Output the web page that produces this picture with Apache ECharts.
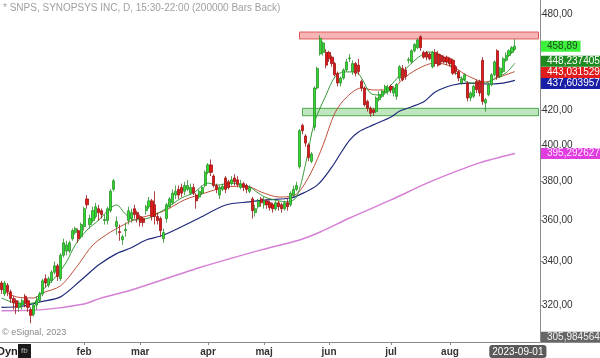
<!DOCTYPE html>
<html>
<head>
<meta charset="utf-8">
<script src="https://cdn.jsdelivr.net/npm/echarts@6/dist/echarts.min.js"></script>
<style>html,body{margin:0;padding:0;background:#fff}#c{width:600px;height:358px}</style>
</head>
<body>
<div id="c"></div>
<script>
// ---- data ----
const holidays = ['2022-12-26','2023-01-02','2023-01-16','2023-02-20','2023-04-07','2023-05-29','2023-06-19','2023-07-04','2023-09-04'];
const firstDay = '2022-12-20';
const padBars = 8;
const opens = [330,325,329,326,323,322,319,320,324,322,318,316,320,322,325,332,329,331,335,338,332,343,345,345,351,354,355,352,357,371,
358,360,362,366,365,360,360,365,376,357,354.5,350.5,355,360,361,366,364,362,361,365,367,370,368,362,361,351,361,367,369,373,
376,377,375,376,374,377,373,372,374,378,385,389,383,378,373,376,382,380,379,382,381,377,379,378,375,371,364,367,371,368,
370,369,368,366,369,368,366,369,368,373,376,388,411,405,400,391,410,433,454,455,455,455,452,448,442,436,439,444,451,443,
448,447,437,433,425,421,420,419,426,428,430,431,434,430,428,439,445,444,450,449,456,458,465,455,455,454,446,455,454,453,
452,452,451,450,446,443,436,438,436,427,428,437,437,450,424,429,435,441,456,440,443,450,453,455,457];
const closes = [327,330,326,323,321,319,321,322,321,319,315.5,320,322,325,331,330,332,335,338,333,343,349,348,349,355,356,351,358,366,368,
361,365,367,364,363,360.5,366,375,380.5,359.5,354,352,355.5,365,364,363,361,359,359,367,370,362,362,360,355,354,368,371,374,375,
373,374,378,378,377,374,370,375,377,385,389,385,378,376,377,377.5,376,377,381,380,378.5,379,377,376,377,365,366,370,369,370,
368,366.5,366,369,367,366,369,367,374,376,378,408,408,401,393,395,433,445,464,461,447,451,448,441,436,439,444,449,451.5,448,
442,443,433,423,421,418,418.5,427,429,431,434,433,432,433,435,446,438,440,450.5,456,460,463,458,452,452,451,455,448,447,449,
449,449,448,442,443,439,438.5,441,427,430,434,432,430,425,426,435,441,449,440,445,451,453,456,458,458.89];
const lows = [325,324,324,321,318,316,317,318,319,317,312,315,318,321,324,328,328,330,334,331,331,342,343,344,350,353,349,351,355,366,
356,359,361,360,361,358,358,364,375,353,350,348,352,358,359,361,359,357,357,363,366,360,358,358,352,349,359,366,368,371,
371,372,373,375,373,373,366,371,373,377,384,383,377,374,371,375,374,376,378,378,377,376,375,374,374,361,362,366,367,366,
366,365,364,365,365,364,365,365,367,372,375,387,406,399,391,390,408,432,453,453,445,449,446,440,434,434,438,443,449,441,
440,441,431,422,419,416,416.5,418,425,427,429,429,430,428,426,437,437,438,448,448,455,457,456,451,450,450,445,446,446,447,
448,447,446,441,441,437,435,437,425,425,427,430,428,423,419,428,434,440,438,439,442,449,452,454,456];
const highs = [331,331,330,327,324,323,322,323,325,323,319,321,324,326,332,334,333,336,340,339,344,351,350,350,356,357,356,359,367,373,
363,367,369,368,366,363,367,376,381.5,362,358,353,359,367,366,368,365,363,362,368,372,371,375,364,362,356,369,372,376,378,
378,379,380,381,379,379,374,376,378,386,390,392,384,379,378,379,383,381,383,384,383,381,380,379,378,372,368,371,372,372,
371,370,369,370,370,369,370,371,375,378,380,409,412,406,401,396,434,446,466,462,457,456,453,449,443,440,445,451,454,450,
449,451,438,434,426,422,421,428,431,432,435,435,435,434,436,447,447,446,452,457,461,464,466,456,456,455,456,457,456,454,
453,453,452,451,447,444,440,442,437,431,435,438,438,452,427,436,442,450,457,446,452,455,457,459,463.5];
// moving averages: [bar index, value]
const maFast = [[0,323.2],[6,320.6],[11,321.0],[14,326.8],[18,332.3],[22,339.8],[25,348.0],[29,355.3],[33,360.3],[37,366.4],[39,367.9],[42,363.3],[45,360.3],[50,361.3],[56,366.4],[61,371.5],[65,374.1],[70,379.3],[73,378.2],[78,379.3],[84,377.2],[87,374.1],[90,371.5],[97,369.5],[100,372.0],[103,389.0],[106,412.4],[110,428.8],[113,439.7],[116,442.8],[120,442.8],[122,439.1],[125,429.9],[128,428.8],[132,434.8],[136,442.8],[141,451.5],[145,455.3],[150,451.5],[154,442.2],[159,436.0],[164,436.0],[168,439.7],[171,442.2],[174,448.237405]];
const maMid = [[0,327.3],[5,323.7],[11,323.2],[14,325.5],[20,328.7],[26,338.5],[31,348.0],[37,354.3],[44,359.8],[47,361.3],[55,364.8],[62,370.5],[69,374.1],[76,377.2],[83,377.7],[88,374.6],[94,372.0],[100,373.6],[105,385.2],[109,400.0],[113,418.2],[117,427.6],[122,433.0],[126,431.8],[132,431.8],[136,438.5],[141,444.6],[147,448.4],[153,445.9],[158,440.4],[164,436.6],[168,439.1],[174,443.031529]];
const maSlow = [[0,319.0],[7,319.5],[13,321.4],[20,323.7],[27,331.4],[33,338.5],[39,343.8],[44,346.6],[49,350.4],[55,352.8],[66,360.5],[76,367.9],[84,369.5],[90,370.5],[98,371.5],[101,373.1],[107,378.2],[112,387.9],[115,395.5],[118,402.7],[121,407.3],[126,411.3],[132,415.9],[135,419.3],[143,424.6],[147,430.6],[153,434.8],[158,436.0],[164,435.4],[170,436.0],[174,437.603957]];
const maLong = [[0,317.5],[14,318.0],[28,320.5],[33,322.8],[44,326.8],[67,337.1],[88,345.6],[101,350.4],[108,354.3],[118,361.3],[132,370.5],[145,379.8],[162,390.1],[174,395.292627]];
const lastClose = 458.89;
const extraLevel = 305.984564;
const resistance = [463.6, 468.1];
const support = [416.6, 420.9];
const zoneStart = ['2023-05-17','2023-05-18'];
const yTicks = [320,340,360,380,400,420,440,460,480];
const yLabels = [320,340,360,380,400,420,480];
const monthStarts = ['2023-02-01','2023-03-01','2023-04-03','2023-05-01','2023-06-01','2023-07-03','2023-08-01'];
const monthNames = ['feb','mar','apr','maj','jun','jul','aug'];
const lastDate = '2023-09-01';

// ---- categories: trading days ----
const categories = [];
(function(){
  const d = new Date(firstDay + 'T00:00:00Z');
  const need = opens.length + padBars;
  while (categories.length < need) {
    const s = d.toISOString().slice(0,10);
    const wd = d.getUTCDay();
    if (wd !== 0 && wd !== 6 && holidays.indexOf(s) < 0) categories.push(s);
    d.setUTCDate(d.getUTCDate() + 1);
  }
})();
const candles = opens.map((o,i) => [o, closes[i], lows[i], highs[i]]);

const FONT = '"Liberation Sans", Arial, sans-serif';
function comma(v, n){ return v.toFixed(n).replace('.', ','); }
function tag(value, dec, bg, fg, offY){
  return { yAxis: value, label: { show:true, position:'end', distance:1, formatter: () => comma(value, dec),
    backgroundColor: bg, color: fg, fontFamily: FONT, fontSize: 10, padding:[1,3,0,6], offset:[0, offY||0] } };
}
function ml(items){
  return { symbol:'none', silent:true, animation:false, lineStyle:{color:'rgba(255,255,255,0)', width:0, type:'solid'}, data: items };
}

const chart = echarts.init(document.getElementById('c'), null, {renderer:'canvas'});
chart.setOption({
  animation:false,
  backgroundColor:'#ffffff',
  grid:{left:0, right:60, top:0, bottom:16, containLabel:false},
  xAxis:{
    type:'category', data:categories, boundaryGap:true,
    axisLine:{show:true, lineStyle:{color:'#8a8a8a', width:1}},
    axisTick:{show:true, alignWithLabel:true, length:3, interval:(i,v)=>monthStarts.indexOf(v)>=0, lineStyle:{color:'#8a8a8a'}},
    axisLabel:{show:true, interval:(i,v)=>monthStarts.indexOf(v)>=0, formatter:v=>monthNames[monthStarts.indexOf(v)]||'',
      fontFamily:FONT, fontSize:10, fontWeight:'bold', color:'#333', margin:5},
    splitLine:{show:false},
    axisPointer:{show:true, value:lastDate, status:'show', type:'line', lineStyle:{opacity:0}, triggerTooltip:false,
      label:{show:true, backgroundColor:'#5a5a5a', color:'#fff', fontFamily:FONT, fontSize:10, padding:[2,3,1,3], margin:3}}
  },
  yAxis:{
    type:'log', logBase:10, position:'right', min:303.98, max:489.45,
    axisLine:{show:true, lineStyle:{color:'#8a8a8a', width:1}},
    axisTick:{show:true, length:3, customValues:yTicks, lineStyle:{color:'#8a8a8a'}},
    axisLabel:{show:true, customValues:yLabels, formatter:v=>comma(v,2), fontFamily:FONT, fontSize:10, color:'#333', margin:2},
    splitLine:{show:false}
  },
  graphic:[
    {type:'text', left:3, top:3, style:{text:'* SNPS, SYNOPSYS INC, D, 15:30-22:00 (200000 Bars Back)', fill:'#a0a0a0', font:'10px '+FONT}},
    {type:'text', left:2, top:328, style:{text:'\u00a9 eSignal, 2023', fill:'#8a8a8a', font:'9px '+FONT}},
    {type:'text', left:-3, top:346, style:{text:'Dyn', fill:'#222', font:'bold 11px '+FONT}},
    {type:'rect', shape:{x:18, y:344, width:13, height:14}, style:{fill:'#1a1a1a'}},
    {type:'text', left:21, top:347, style:{text:'fb', fill:'#bbb', font:'8px '+FONT}}
  ],
  series:[
    {type:'line', name:'long', data:maLong, smooth:0.3, showSymbol:false, lineStyle:{color:'#d67fd6', width:1.5}, z:2,
      markLine: ml([tag(maLong[maLong.length-1][1], 6, '#e03ce0', '#ffe6ff', 0)])},
    {type:'line', name:'slow', data:maSlow, smooth:0.3, showSymbol:false, lineStyle:{color:'#1f2a7c', width:1.2}, z:2,
      markLine: ml([tag(maSlow[maSlow.length-1][1], 6, '#1b1fa6', '#ffffff', 3)])},
    {type:'line', name:'mid', data:maMid, smooth:0.3, showSymbol:false, lineStyle:{color:'#c0503a', width:1}, z:3,
      markLine: ml([tag(maMid[maMid.length-1][1], 6, '#e01c1c', '#ffffff', 1)])},
    {type:'line', name:'fast', data:maFast, smooth:0.3, showSymbol:false, lineStyle:{color:'#3a9a3a', width:1}, z:3,
      markLine: ml([tag(maFast[maFast.length-1][1], 6, '#1f8a1f', '#ffffff', -2)])},
    {type:'candlestick', name:'SNPS', data:candles, barWidth:2.6, z:4,
      itemStyle:{color:'#2fdc2f', color0:'#e01a1a', borderColor:'#2a8f2a', borderColor0:'#9a1414', borderWidth:0.8},
      markArea:{silent:true, data:[
        [{xAxis:zoneStart[0], yAxis:resistance[0], itemStyle:{color:'rgba(240,130,130,0.6)', borderColor:'#e05a5a', borderWidth:1}},
         {xAxis:categories[categories.length-1], yAxis:resistance[1]}],
        [{xAxis:zoneStart[1], yAxis:support[0], itemStyle:{color:'rgba(140,210,140,0.55)', borderColor:'#4aa84a', borderWidth:1}},
         {xAxis:categories[categories.length-1], yAxis:support[1]}]
      ]},
      markLine: ml([tag(lastClose, 2, '#3cf03c', '#1b4d1b', 0), tag(extraLevel, 6, '#666666', '#f0f0f0', 0)])}
  ]
});
</script>
</body>
</html>
